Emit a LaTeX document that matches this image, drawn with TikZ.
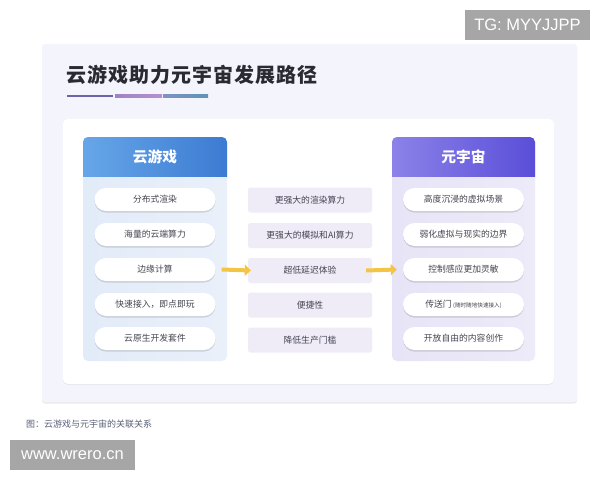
\documentclass[tikz,border=0pt]{standalone}
\usepackage{fontspec}
\newfontfamily\cjk{Noto Sans CJK SC}
\newfontfamily\cjkt{Noto Sans CJK SC}[LetterSpace=5]
\newfontfamily\wm{Liberation Sans}
\usetikzlibrary{arrows.meta,shadows}
\definecolor{outerbg}{HTML}{F4F5FC}
\definecolor{titlec}{HTML}{2A2A33}
\definecolor{ulA}{HTML}{6A63A6}
\definecolor{ulB}{HTML}{B690CF}
\definecolor{ulC}{HTML}{5E93B8}
\definecolor{blueL}{HTML}{66A6E8}
\definecolor{blueR}{HTML}{3C7BD2}
\definecolor{purL}{HTML}{8C82E8}
\definecolor{purR}{HTML}{5A4ED8}
\definecolor{bodyBL}{HTML}{E2EBF8}
\definecolor{bodyBR}{HTML}{EAF0FA}
\definecolor{bodyPL}{HTML}{E6E4F6}
\definecolor{bodyPR}{HTML}{EDEBF8}
\definecolor{midc}{HTML}{EFECF8}
\definecolor{txt}{HTML}{444450}
\definecolor{arrowc}{HTML}{F4C544}
\definecolor{capc}{HTML}{5A6078}
\definecolor{wmgray}{HTML}{A6A6A6}
\tikzset{
  pill/.style={rectangle, rounded corners=11.5pt, fill=white, minimum width=121pt, minimum height=23pt, inner sep=0pt,
    font=\cjk\fontsize{8.8}{10}\selectfont, text=txt,
    drop shadow={shadow xshift=0pt, shadow yshift=-1.5pt, opacity=0.13, fill=black}},
  midbox/.style={rectangle, rounded corners=2.5pt, fill=midc, minimum width=124pt, minimum height=25pt, inner sep=0pt,
    font=\cjk\fontsize{8.8}{10}\selectfont, text=txt},
  header/.style={font=\cjk\bfseries\fontsize{14.7}{16}\selectfont, text=white, inner sep=0pt},
  flow/.style={draw=arrowc, line width=4pt, -{Triangle[length=6pt,width=11pt]}},
  wmark/.style={fill=wmgray, text=white, font=\wm\fontsize{16.5}{18}\selectfont, inner sep=0pt},
}
\begin{document}
\begin{tikzpicture}[x=1pt,y=-1pt]
\useasboundingbox (0,0) rectangle (600,480);
\fill[white] (0,0) rectangle (600,480);
% outer card
\fill[outerbg, rounded corners=3pt, drop shadow={shadow xshift=0pt, shadow yshift=-1.5pt, opacity=0.08, fill=black}] (42,44) rectangle (577,402);
% title
\node[anchor=west, inner sep=0pt, font=\cjkt\bfseries\fontsize{20}{22}\selectfont, text=titlec] (title) at (66,75) {云游戏助力元宇宙发展路径};
\draw[ulA, line width=2.2pt] (67,96) -- (113,96);
\shade[left color=ulB!70!ulA, right color=ulB] (115,94.9) rectangle (162,97.1);
\shade[left color=ulB!40!ulC, right color=ulC] (163,94.9) rectangle (208,97.1);
% inner white card
\fill[white, rounded corners=5pt, drop shadow={shadow xshift=0pt, shadow yshift=-1pt, opacity=0.06, fill=black}] (63,119) rectangle (554,384);
% left panel
\shade[left color=bodyBL, right color=bodyBR, rounded corners=5pt] (83,137) rectangle (227,361);
\begin{scope}
\clip[rounded corners=5pt] (83,137) rectangle (227,361);
\shade[left color=blueL, right color=blueR] (83,137) rectangle (227,176);
\end{scope}
\node[header] (lh) at (155,157) {云游戏};
% right panel
\shade[left color=bodyPL, right color=bodyPR, rounded corners=5pt] (392,137) rectangle (535,361);
\begin{scope}
\clip[rounded corners=5pt] (392,137) rectangle (535,361);
\shade[left color=purL, right color=purR] (392,137) rectangle (535,176);
\end{scope}
\node[header] (rh) at (463.5,157) {元宇宙};
% left pills
\node[pill] (lp1) at (155,199.5) {分布式渲染};
\node[pill] (lp2) at (155,234.5) {海量的云端算力};
\node[pill] (lp3) at (155,269.5) {边缘计算};
\node[pill] (lp4) at (155,304.5) {快速接入，即点即玩};
\node[pill] (lp5) at (155,338.5) {云原生开发套件};
% middle boxes
\node[midbox] (m1) at (310,200) {更强大的渲染算力};
\node[midbox] (m2) at (310,235.5) {更强大的模拟和AI算力};
\node[midbox] (m3) at (310,270.5) {超低延迟体验};
\node[midbox] (m4) at (310,305) {便捷性};
\node[midbox] (m5) at (310,340) {降低生产门槛};
% right pills
\node[pill] (rp1) at (463.5,199.5) {高度沉浸的虚拟场景};
\node[pill] (rp2) at (463.5,234.5) {弱化虚拟与现实的边界};
\node[pill] (rp3) at (463.5,269.5) {控制感应更加灵敏};
\node[pill] (rp4) at (463.5,304.5) {传送门\,{\fontsize{5.6}{6}\selectfont(随时随地快速接入)}};
\node[pill] (rp5) at (463.5,338.5) {开放自由的内容创作};
% arrows
\draw[flow] ([xshift=6pt]lp3.east) -- ([xshift=3pt]m3.west);
\draw[flow] ([xshift=-6pt]m3.east) -- ([xshift=-6pt]rp3.west);
% caption
\node[anchor=west, inner sep=0pt, font=\cjk\fontsize{9}{10}\selectfont, text=capc] (cap) at (26,424) {图：云游戏与元宇宙的关联关系};
% watermarks
\node[wmark, minimum width=125pt, minimum height=30pt] (wm1) at (527.5,24.5) {TG: MYYJJPP};
\node[wmark, minimum width=125pt, minimum height=30pt] (wm2) at (72.5,455) {www.wrero.cn};
\end{tikzpicture}
\end{document}
